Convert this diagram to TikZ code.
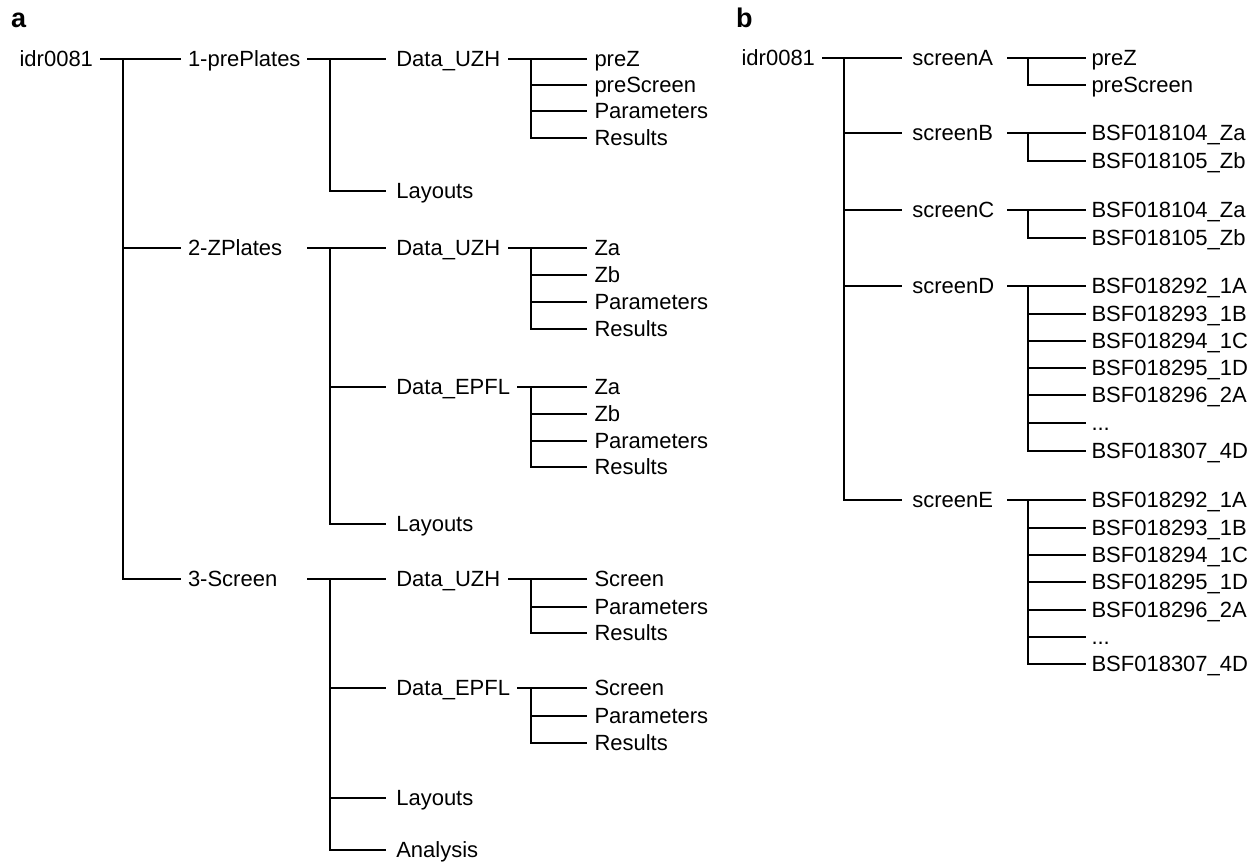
\documentclass[tikz,border=0pt]{standalone}
\usepackage{fontspec}
\setmainfont{Liberation Sans}
\tikzset{
  lbl/.style={anchor=base west, inner sep=0pt, outer sep=0pt, font=\fontsize{22}{24}\selectfont},
  conn/.style={line width=2pt, line cap=butt, line join=miter},
  panel/.style={anchor=base west, inner sep=0pt, outer sep=0pt, font=\fontsize{27}{30}\selectfont\bfseries}
}
\newcommand\lab[5]{% name, text x, line-end x, line y, text
  \node[lbl] (#1) at (#2,-#4-7.5) {#5};
  \coordinate (#1-w) at (#3,-#4);}
\newcommand\jnc[4]{% name, start x, junction x, y
  \coordinate (#1-o) at (#2,-#4);
  \coordinate (#1-j) at (#3,-#4);}
\begin{document}
\begin{tikzpicture}[x=1pt,y=1pt]
\useasboundingbox (0,0) rectangle (1255,-862);

% ---------------- panel a ----------------
\node[panel] (pa) at (11,-27.5) {a};
\lab{a0}{19.6}{0}{58.5}{idr0081}
\jnc{a0}{100}{123}{58.5}
\lab{a1}{188}{181}{58.5}{1-prePlates}
\lab{a2}{188}{181}{248}{2-ZPlates}
\lab{a3}{188}{181}{579}{3-Screen}
\draw[conn] (a0-o) -- (a1-w);
\draw[conn] (a0-j) |- (a2-w);
\draw[conn] (a0-j) |- (a3-w);

% 1-prePlates
\jnc{a1}{307}{330}{58.5}
\lab{a11}{396.3}{386}{58.5}{Data\_UZH}
\lab{a12}{396.3}{386}{191}{Layouts}
\draw[conn] (a1-o) -- (a11-w);
\draw[conn] (a1-j) |- (a12-w);

\jnc{a11}{508}{531}{58.5}
\lab{a111}{594.5}{587}{58.5}{preZ}
\lab{a112}{594.5}{587}{84.5}{preScreen}
\lab{a113}{594.5}{587}{111}{Parameters}
\lab{a114}{594.5}{587}{138}{Results}
\draw[conn] (a11-o) -- (a111-w);
\draw[conn] (a11-j) |- (a112-w);
\draw[conn] (a11-j) |- (a113-w);
\draw[conn] (a11-j) |- (a114-w);

% 2-ZPlates
\jnc{a2}{307}{330}{248}
\lab{a21}{396.3}{386}{248}{Data\_UZH}
\lab{a22}{396.3}{386}{387}{Data\_EPFL}
\lab{a23}{396.3}{386}{524}{Layouts}
\draw[conn] (a2-o) -- (a21-w);
\draw[conn] (a2-j) |- (a22-w);
\draw[conn] (a2-j) |- (a23-w);

\jnc{a21}{508}{531}{248}
\lab{a211}{594.5}{587}{248}{Za}
\lab{a212}{594.5}{587}{275}{Zb}
\lab{a213}{594.5}{587}{302}{Parameters}
\lab{a214}{594.5}{587}{329}{Results}
\draw[conn] (a21-o) -- (a211-w);
\draw[conn] (a21-j) |- (a212-w);
\draw[conn] (a21-j) |- (a213-w);
\draw[conn] (a21-j) |- (a214-w);

\jnc{a22}{517}{531}{387}
\lab{a221}{594.5}{587}{387}{Za}
\lab{a222}{594.5}{587}{414}{Zb}
\lab{a223}{594.5}{587}{440.5}{Parameters}
\lab{a224}{594.5}{587}{467}{Results}
\draw[conn] (a22-o) -- (a221-w);
\draw[conn] (a22-j) |- (a222-w);
\draw[conn] (a22-j) |- (a223-w);
\draw[conn] (a22-j) |- (a224-w);

% 3-Screen
\jnc{a3}{307}{330}{579}
\lab{a31}{396.3}{386}{579}{Data\_UZH}
\lab{a32}{396.3}{386}{688}{Data\_EPFL}
\lab{a33}{396.3}{386}{797.5}{Layouts}
\lab{a34}{396.3}{386}{850}{Analysis}
\draw[conn] (a3-o) -- (a31-w);
\draw[conn] (a3-j) |- (a32-w);
\draw[conn] (a3-j) |- (a33-w);
\draw[conn] (a3-j) |- (a34-w);

\jnc{a31}{508}{531}{579}
\lab{a311}{594.5}{587}{579}{Screen}
\lab{a312}{594.5}{587}{606.5}{Parameters}
\lab{a313}{594.5}{587}{632.5}{Results}
\draw[conn] (a31-o) -- (a311-w);
\draw[conn] (a31-j) |- (a312-w);
\draw[conn] (a31-j) |- (a313-w);

\jnc{a32}{517}{531}{688}
\lab{a321}{594.5}{587}{688}{Screen}
\lab{a322}{594.5}{587}{716}{Parameters}
\lab{a323}{594.5}{587}{742.5}{Results}
\draw[conn] (a32-o) -- (a321-w);
\draw[conn] (a32-j) |- (a322-w);
\draw[conn] (a32-j) |- (a323-w);

% ---------------- panel b ----------------
\node[panel] (pb) at (736,-27.5) {b};
\lab{b0}{741.6}{0}{58}{idr0081}
\jnc{b0}{822}{844}{58}
\lab{b1}{912.3}{902}{58}{screenA}
\lab{b2}{912.3}{902}{133}{screenB}
\lab{b3}{912.3}{902}{210}{screenC}
\lab{b4}{912.3}{902}{286}{screenD}
\lab{b5}{912.3}{902}{500}{screenE}
\draw[conn] (b0-o) -- (b1-w);
\draw[conn] (b0-j) |- (b2-w);
\draw[conn] (b0-j) |- (b3-w);
\draw[conn] (b0-j) |- (b4-w);
\draw[conn] (b0-j) |- (b5-w);

\jnc{b1}{1007}{1028}{58}
\lab{b11}{1091.5}{1086}{58}{preZ}
\lab{b12}{1091.5}{1086}{85}{preScreen}
\draw[conn] (b1-o) -- (b11-w);
\draw[conn] (b1-j) |- (b12-w);

\jnc{b2}{1007}{1028}{133}
\lab{b21}{1091.5}{1086}{133}{BSF018104\_Za}
\lab{b22}{1091.5}{1086}{161}{BSF018105\_Zb}
\draw[conn] (b2-o) -- (b21-w);
\draw[conn] (b2-j) |- (b22-w);

\jnc{b3}{1007}{1028}{210}
\lab{b31}{1091.5}{1086}{210}{BSF018104\_Za}
\lab{b32}{1091.5}{1086}{237.5}{BSF018105\_Zb}
\draw[conn] (b3-o) -- (b31-w);
\draw[conn] (b3-j) |- (b32-w);

\jnc{b4}{1007}{1028}{286}
\lab{b41}{1091.5}{1086}{286}{BSF018292\_1A}
\lab{b42}{1091.5}{1086}{313.5}{BSF018293\_1B}
\lab{b43}{1091.5}{1086}{341}{BSF018294\_1C}
\lab{b44}{1091.5}{1086}{368}{BSF018295\_1D}
\lab{b45}{1091.5}{1086}{395}{BSF018296\_2A}
\lab{b46}{1091.5}{1086}{423}{...}
\lab{b47}{1091.5}{1086}{451}{BSF018307\_4D}
\draw[conn] (b4-o) -- (b41-w);
\foreach \k in {2,...,7} { \draw[conn] (b4-j) |- (b4\k-w); }

\jnc{b5}{1007}{1028}{500}
\lab{b51}{1091.5}{1086}{500}{BSF018292\_1A}
\lab{b52}{1091.5}{1086}{528}{BSF018293\_1B}
\lab{b53}{1091.5}{1086}{555}{BSF018294\_1C}
\lab{b54}{1091.5}{1086}{582}{BSF018295\_1D}
\lab{b55}{1091.5}{1086}{609.5}{BSF018296\_2A}
\lab{b56}{1091.5}{1086}{637}{...}
\lab{b57}{1091.5}{1086}{664}{BSF018307\_4D}
\draw[conn] (b5-o) -- (b51-w);
\foreach \k in {2,...,7} { \draw[conn] (b5-j) |- (b5\k-w); }
\end{tikzpicture}
\end{document}
